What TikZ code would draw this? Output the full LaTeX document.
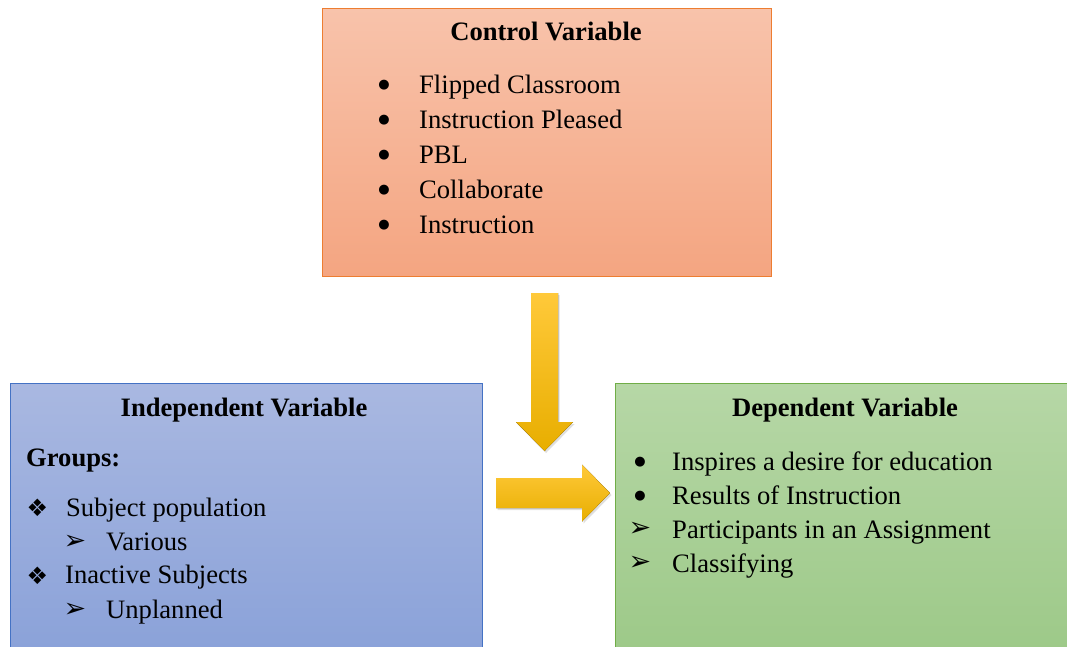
\documentclass[tikz,border=0pt]{standalone}
\usepackage{fontspec}
\setmainfont{Liberation Serif}
\newfontfamily\symfont{DejaVu Sans}
\usetikzlibrary{shadows}
\definecolor{orbd}{HTML}{ED7D31}
\definecolor{ortop}{HTML}{F8C3AB}
\definecolor{orbot}{HTML}{F4A581}
\definecolor{blbd}{HTML}{4472C4}
\definecolor{bltop}{HTML}{A9B8E1}
\definecolor{blbot}{HTML}{88A0D8}
\definecolor{grbd}{HTML}{70AD47}
\definecolor{grtop}{HTML}{B6D7A6}
\definecolor{grbot}{HTML}{9BC886}
\definecolor{goldtop}{HTML}{FFC93A}
\definecolor{goldbot}{HTML}{E8AE00}
\tikzset{
  varbox/.style={draw, line width=1.1pt, rectangle, anchor=north west, inner sep=0pt},
  txt/.style={anchor=base west, inner sep=0pt, font=\fontsize{26.6}{30}\selectfont},
  ttl/.style={anchor=base, inner sep=0pt, font=\fontsize{26.6}{30}\selectfont\bfseries},
  bul/.style={anchor=center, inner sep=0pt, font=\fontsize{13}{14}\symfont},
  dia/.style={anchor=center, inner sep=0pt, font=\fontsize{24}{26}\symfont},
  arr/.style={anchor=center, inner sep=0pt, font=\fontsize{27}{30}\symfont},
  goldarrow/.style={top color=goldtop, bottom color=goldbot, drop shadow={opacity=0.25, shadow xshift=1.5pt, shadow yshift=-2pt}}
}
\begin{document}
\begin{tikzpicture}[x=1pt,y=-1pt]
\useasboundingbox (0,0) rectangle (1067,646);
\clip (0,0) rectangle (1067,646);
\fill[white] (0,0) rectangle (1067,646);
% boxes
\node[varbox, draw=orbd, top color=ortop, bottom color=orbot, minimum width=449, minimum height=268] (ctrl) at (322,7.5) {};
\node[varbox, draw=blbd, top color=bltop, bottom color=blbot, minimum width=472, minimum height=290] (indep) at (10,383) {};
\node[varbox, draw=grbd, top color=grtop, bottom color=grbot, minimum width=470, minimum height=290] (dep) at (615,383) {};
% arrows
\coordinate (dtop) at (544.5,293);
\coordinate (dtip) at (544.5,451);
\coordinate (rtail) at (496,493);
\coordinate (rtip) at (610,493);
\fill[goldarrow] ([xshift=-13.5]dtop) -- ([xshift=13.5]dtop) -- ([xshift=13.5,yshift=29]dtip) -- ([xshift=28.5,yshift=29]dtip) -- (dtip) -- ([xshift=-28.5,yshift=29]dtip) -- ([xshift=-13.5,yshift=29]dtip) -- cycle;
\fill[goldarrow] ([yshift=15]rtail) -- ([xshift=-28,yshift=15]rtip) -- ([xshift=-28,yshift=28.5]rtip) -- (rtip) -- ([xshift=-28,yshift=-28.5]rtip) -- ([xshift=-28,yshift=-15]rtip) -- ([yshift=-15]rtail) -- cycle;
% control text
\node[ttl] (ct) at (546,40) {Control Variable};
\foreach \y/\t [count=\i] in {93/Flipped Classroom,128/Instruction Pleased,163/PBL,198/Collaborate,233/Instruction}{
  \node[bul] (cb\i) at (384,\y-8) {●};
  \node[txt] (cl\i) at (419,\y) {\t};
}
% independent text
\node[ttl] (it) at (244,416.5) {Independent Variable};
\node[txt, font=\fontsize{26.6}{30}\selectfont\bfseries] (grp) at (26,466.5) {Groups:};
\node[dia] (d1) at (37.5,508) {❖};
\node[txt] (i1) at (66,516.5) {Subject population};
\node[arr] (a1) at (75,542) {➢};
\node[txt] (i2) at (106,550) {Various};
\node[dia] (d2) at (37.5,576) {❖};
\node[txt] (i3) at (65,583.5) {Inactive Subjects};
\node[arr] (a2) at (75,610) {➢};
\node[txt] (i4) at (106,618) {Unplanned};
% dependent text
\node[ttl] (dt) at (845,416.5) {Dependent Variable};
\node[bul] (db1) at (640,462) {●};
\node[txt] (dl1) at (672,470) {Inspires a desire for education};
\node[bul] (db2) at (640,496) {●};
\node[txt] (dl2) at (672,504) {Results of Instruction};
\node[arr] (da1) at (640,529.5) {➢};
\node[txt] (dl3) at (672,538) {Participants in an Assignment};
\node[arr] (da2) at (640,563.5) {➢};
\node[txt] (dl4) at (672,572) {Classifying};
\end{tikzpicture}
\end{document}
